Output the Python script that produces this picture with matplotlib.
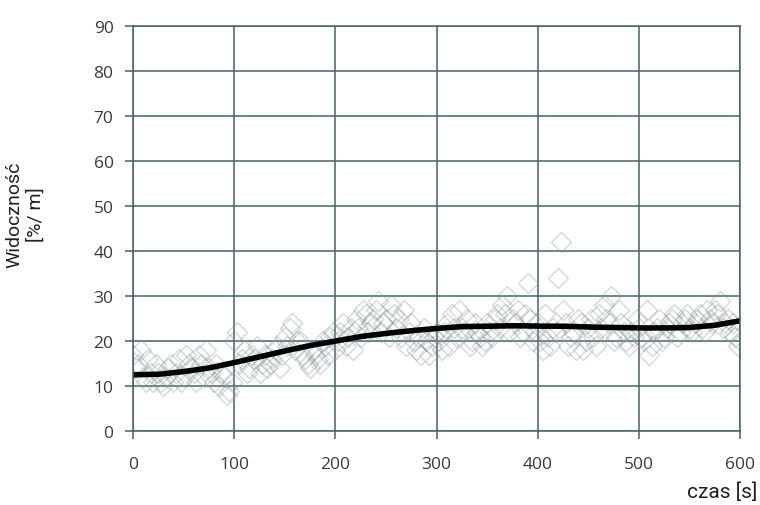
import numpy as np
import matplotlib
matplotlib.use('Agg')
import matplotlib.pyplot as plt

# measured points, two interleaved series (every 5 s, offset by 2.5 s)
t_a = np.arange(0, 601, 5)
vis_a = [17, 15, 12, 16, 11, 13, 10, 14, 11, 16, 12, 15, 13, 17, 12, 14, 11, 10, 12, 9,
         20, 15, 18, 14, 16, 13, 17, 15, 18, 14, 21, 23, 18, 20, 16, 14, 17, 15, 19, 21,
         18, 22, 19, 23, 25, 21, 26, 24, 27, 22, 25, 28, 23, 21, 19, 24, 18, 17, 20, 19,
         22, 18, 24, 26, 21, 23, 25, 20, 22, 19, 24, 21, 26, 28, 30, 25, 27, 22, 33, 20,
         24, 18, 21, 23, 34, 27, 19, 22, 25, 18, 23, 21, 26, 28, 24, 20, 27, 22, 19, 21,
         23, 20, 17, 22, 25, 21, 24, 26, 22, 25, 23, 24, 26, 22, 25, 27, 29, 24, 22, 21, 20]
t_b = np.arange(2.5, 600, 5)
vis_b = [14, 18, 11, 13, 15, 11, 12, 15, 13, 11, 17, 14, 11, 15, 18, 13, 15, 13, 8, 11,
         22, 16, 13, 17, 19, 15, 14, 16, 19, 17, 19, 24, 20, 17, 15, 18, 16, 20, 17, 22,
         20, 24, 21, 18, 23, 27, 22, 25, 29, 24, 21, 26, 25, 27, 22, 20, 21, 23, 17, 21,
         20, 22, 19, 23, 27, 22, 19, 24, 21, 20, 22, 25, 23, 26, 22, 24, 21, 26, 25, 22,
         20, 26, 19, 22, 42, 24, 21, 18, 24, 20, 25, 19, 23, 25, 30, 21, 24, 20, 22, 25,
         21, 27, 19, 23, 20, 23, 25, 21, 24, 26, 22, 25, 23, 27, 24, 26, 23, 25, 24, 19]

# trend curve
t_fit = [0, 25, 50, 75, 100, 125, 150, 175, 200, 225, 250, 275, 300, 325, 350,
         375, 400, 425, 450, 475, 500, 525, 550, 575, 600]
vis_fit = [12.5, 12.6, 13.2, 14.0, 15.2, 16.5, 17.8, 19.0, 20.0, 21.0, 21.7, 22.3,
           22.8, 23.2, 23.3, 23.4, 23.3, 23.3, 23.1, 23.0, 22.9, 22.9, 23.0, 23.5, 24.5]

grid_c = '#45626b'

fig = plt.figure(figsize=(7.6, 5.06), dpi=100)
ax = fig.add_axes([0.175, 0.1462, 0.799, 0.8004])

for tt, vv in [(t_a, vis_a), (t_b, vis_b)]:
    ax.plot(tt, vv, linestyle='none', marker='D', markersize=10, markerfacecolor='none',
            markeredgecolor='#8a9699', markeredgewidth=0.9, alpha=0.4)

# smooth the typed trend points for drawing
xs = np.linspace(0, 600, 300)
ax.plot(xs, np.interp(xs, t_fit, vis_fit), color='black', linewidth=4, solid_capstyle='round')

ax.set_xlim(0, 600)
ax.set_ylim(0, 90)
ax.set_xticks(range(0, 601, 100))
ax.set_yticks(range(0, 91, 10))
ax.grid(True, color=grid_c, linewidth=1.1)
ax.set_axisbelow(True)
for s in ax.spines.values():
    s.set_color(grid_c)
    s.set_linewidth(1.1)
ax.tick_params(direction='out', length=6, width=1.1, color=grid_c, labelsize=12.5,
               labelcolor='#3a3a3a')
ax.tick_params(axis='x', pad=12)
ax.tick_params(axis='y', pad=8)
for lab in ax.get_xticklabels() + ax.get_yticklabels():
    lab.set_family('Open Sans')

fig.text(0.033, 0.575, 'Widoczność\n[%/ m]', rotation=90, ha='center', va='center',
         multialignment='center', fontsize=14, family='Roboto', color='#222222')
fig.text(0.95, 0.028, 'czas [s]', ha='center', va='center', fontsize=15,
         family='Roboto', color='#222222')

fig.savefig('out.png', dpi=100)
